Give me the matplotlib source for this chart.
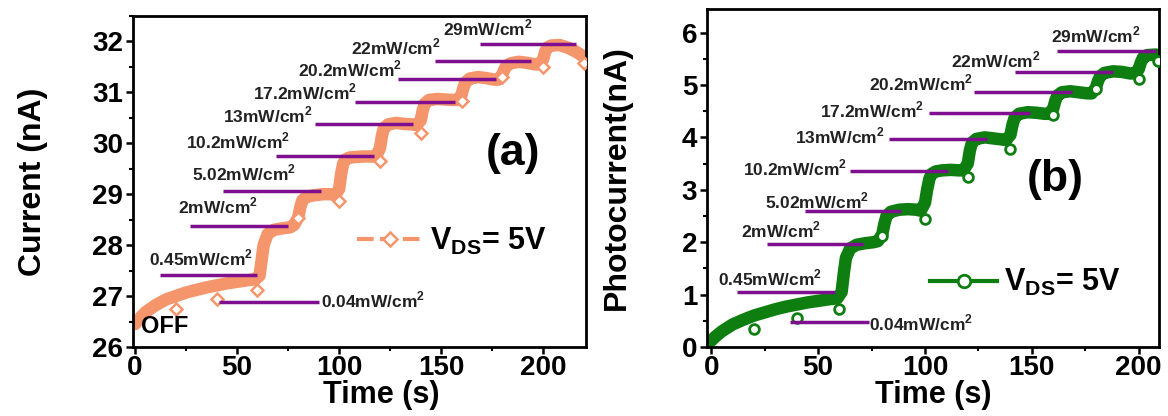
import matplotlib
matplotlib.use('Agg')
import matplotlib.pyplot as plt
from matplotlib.ticker import MultipleLocator

plt.rcParams['font.family'] = ['Liberation Sans', 'DejaVu Sans']
plt.rcParams['font.weight'] = 'bold'
plt.rcParams['mathtext.fontset'] = 'custom'
plt.rcParams['mathtext.rm'] = 'Liberation Sans:bold'
plt.rcParams['mathtext.bf'] = 'Liberation Sans:bold'

# ---- data (a): current
t_a = [0, 2, 5, 10, 15, 20, 25, 30, 35, 40, 45, 50, 55, 59, 61, 62, 63, 65, 68, 72, 76, 78,
       80, 81, 82, 84, 88, 92, 96, 98, 100, 101, 102, 103, 105, 108, 112, 116, 118,
       120, 121, 122, 124, 128, 132, 136, 138, 140, 141, 142, 144, 148, 152, 156, 158,
       160, 161, 162, 164, 168, 172, 176, 178, 180, 181, 182, 184, 188, 192, 196, 198,
       200, 201, 202, 204, 208, 212, 216, 220]
i_a = [26.45, 26.55, 26.68, 26.82, 26.93, 27.0, 27.07, 27.12, 27.17, 27.21, 27.25, 27.28, 27.31, 27.33,
       27.4, 27.7, 28.0, 28.22, 28.3, 28.33, 28.35, 28.4,
       28.55, 28.75, 28.88, 28.95, 28.98, 29.0, 29.0, 28.98,
       29.1, 29.4, 29.6, 29.68, 29.72, 29.73, 29.74, 29.74, 29.74,
       29.9, 30.15, 30.3, 30.37, 30.4, 30.38, 30.37, 30.36,
       30.45, 30.65, 30.78, 30.85, 30.87, 30.86, 30.85, 30.85,
       30.95, 31.1, 31.2, 31.27, 31.3, 31.28, 31.25, 31.25,
       31.35, 31.45, 31.52, 31.57, 31.6, 31.58, 31.55, 31.55,
       31.65, 31.8, 31.88, 31.92, 31.93, 31.88, 31.8, 31.7]
mt_a = [20, 40, 60, 80, 100, 120, 140, 160, 180, 200, 220]
mi_a = [26.75, 26.95, 27.12, 28.53, 28.86, 29.66, 30.2, 30.83, 31.3, 31.5, 31.58]

# ---- data (b): photocurrent
t_b = [0, 2, 5, 10, 15, 20, 25, 30, 35, 40, 45, 50, 55, 59, 61, 62, 63, 65, 68, 72, 76, 78,
       80, 81, 82, 84, 88, 92, 96, 98, 100, 101, 102, 103, 105, 108, 112, 116, 118,
       120, 121, 122, 124, 128, 132, 136, 138, 140, 141, 142, 144, 148, 152, 156, 158,
       160, 161, 162, 164, 168, 172, 176, 178, 180, 181, 182, 184, 188, 192, 196, 198,
       200, 201, 202, 204, 208, 210]
p_b = [0.12, 0.2, 0.3, 0.43, 0.52, 0.6, 0.66, 0.72, 0.77, 0.81, 0.85, 0.88, 0.91, 0.93,
       1.05, 1.4, 1.7, 1.88, 1.95, 1.98, 2.0, 2.02,
       2.15, 2.35, 2.5, 2.58, 2.62, 2.63, 2.62, 2.6,
       2.75, 3.0, 3.2, 3.3, 3.35, 3.37, 3.38, 3.37, 3.37,
       3.5, 3.75, 3.9, 3.97, 4.0, 3.98, 3.96, 3.95,
       4.05, 4.25, 4.38, 4.45, 4.48, 4.47, 4.45, 4.45,
       4.55, 4.7, 4.8, 4.86, 4.88, 4.86, 4.84, 4.84,
       4.95, 5.08, 5.17, 5.23, 5.26, 5.25, 5.22, 5.22,
       5.3, 5.43, 5.52, 5.57, 5.58, 5.56]
mt_b = [20, 40, 60, 80, 100, 120, 140, 160, 180, 200, 209]
mp_b = [0.35, 0.55, 0.72, 2.12, 2.44, 3.24, 3.78, 4.42, 4.92, 5.12, 5.46]

# ---- intensity annotations
labels = ['0.04', '0.45', '2', '5.02', '10.2', '13', '17.2', '20.2', '22', '29']
# (a) line y, line start, line end, label x, label y
ly_a = [26.89, 27.41, 28.38, 29.07, 29.76, 30.37, 30.81, 31.27, 31.61, 31.94]
lx0_a = [41, 12, 27, 43, 69, 88, 108, 129, 147, 169]
lx1_a = [90, 60, 75, 91, 117, 136, 157, 177, 194, 216]
tx_a = [91, 7, 21, 28, 25, 43, 58, 80, 106, 151]
ty_a = [26.92, 27.74, 28.76, 29.41, 30.04, 30.56, 31.0, 31.45, 31.88, 32.27]
# (b)
ly_b = [0.48, 1.04, 1.97, 2.6, 3.35, 3.96, 4.46, 4.87, 5.24, 5.64]
lx0_b = [37, 12, 26, 44, 65, 83, 102, 123, 142, 162]
lx1_b = [74, 58, 71, 89, 111, 129, 149, 169, 188, 208]
tx_b = [74, 3, 14, 25, 15, 39, 51, 74, 112, 159]
ty_b = [0.46, 1.31, 2.24, 2.79, 3.42, 4.02, 4.52, 5.03, 5.48, 5.96]

orange = '#F5956C'
green = '#0E7E10'
purple = '#7E0F8E'

fig = plt.figure(figsize=(11.68, 4.16), dpi=100)
ax1 = fig.add_axes([0.1139, 0.1659, 0.3878, 0.7957])
ax2 = fig.add_axes([0.6053, 0.1659, 0.3870, 0.8125])


def style(ax):
    for s in ax.spines.values():
        s.set_linewidth(2)
    ax.xaxis.set_major_locator(MultipleLocator(50))
    ax.xaxis.set_minor_locator(MultipleLocator(25))
    ax.yaxis.set_major_locator(MultipleLocator(1))
    ax.yaxis.set_minor_locator(MultipleLocator(0.5))
    ax.tick_params(which='major', direction='out', length=5, width=1.8, labelsize=20, pad=2)
    ax.tick_params(axis='x', which='major', pad=1)
    ax.tick_params(which='minor', direction='out', length=3, width=1.5)
    for lab in ax.get_xticklabels() + ax.get_yticklabels():
        lab.set_fontweight('bold')
    ax.set_xlabel('Time (s)', fontsize=22, fontweight='bold', labelpad=-1)


# panel (a)
ax1.plot(t_a, i_a, color=orange, lw=9, solid_capstyle='round', solid_joinstyle='round', zorder=2)
ax1.plot(mt_a, mi_a, ls='none', marker='D', ms=6, mfc='white', mec=orange, mew=1.8, zorder=3)
ax1.plot([], [], color=orange, lw=3, ls=(0, (4, 1.5)), marker='D', ms=7, mfc='white', mec=orange,
         mew=1.8, label=r'V$_{\mathbf{DS}}$= 5V')
for k in range(len(labels)):
    ax1.hlines(ly_a[k], lx0_a[k], lx1_a[k], color=purple, lw=2.5, zorder=4)
    ax1.text(tx_a[k], ty_a[k], labels[k] + r'mW/cm$^\mathbf{2}$', fontsize=12.5, fontweight='bold',
             va='center', ha='left', color='#222222', zorder=5)
ax1.text(3, 26.4, 'OFF', fontsize=17, fontweight='bold', va='center')
ax1.text(185, 29.8, '(a)', fontsize=32, fontweight='bold', ha='center', va='center')
ax1.set_xlim(-1, 221)
ax1.set_ylim(26, 32.5)
ax1.set_ylabel('Current (nA)', fontsize=23, fontweight='bold', labelpad=32)
style(ax1)
ax1.xaxis.label.set_x(0.547)
ax1.legend(loc='center left', bbox_to_anchor=(0.46, 0.32), frameon=False, fontsize=22,
           handlelength=2.2, handletextpad=0.2, borderpad=0)

# panel (b)
ax2.plot(t_b, p_b, color=green, lw=9, solid_capstyle='round', solid_joinstyle='round', zorder=2)
ax2.plot(mt_b, mp_b, ls='none', marker='o', ms=7, mfc='white', mec=green, mew=2, zorder=3)
ax2.plot([], [], color=green, lw=3, marker='o', ms=9, mfc='white', mec=green,
         mew=2, label=r'V$_{\mathbf{DS}}$= 5V')
for k in range(len(labels)):
    ax2.hlines(ly_b[k], lx0_b[k], lx1_b[k], color=purple, lw=2.5, zorder=4)
    ax2.text(tx_b[k], ty_b[k], labels[k] + r'mW/cm$^\mathbf{2}$', fontsize=12.5, fontweight='bold',
             va='center', ha='left', color='#222222', zorder=5)
ax2.text(161, 3.2, '(b)', fontsize=32, fontweight='bold', ha='center', va='center')
ax2.set_xlim(-2, 209.5)
ax2.set_ylim(0, 6.45)
ax2.set_ylabel('Photocurrent(nA)', fontsize=23, fontweight='bold', labelpad=36)
style(ax2)
ax2.legend(loc='center left', bbox_to_anchor=(0.46, 0.19), frameon=False, fontsize=22,
           handlelength=2.2, handletextpad=0.2, borderpad=0)

fig.savefig('out.png', dpi=100)
